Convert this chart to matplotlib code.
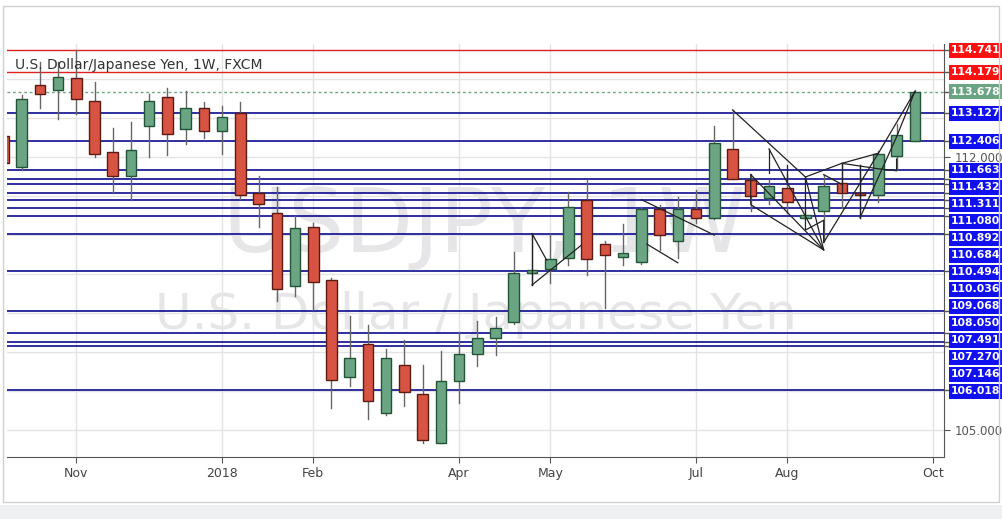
import matplotlib
matplotlib.use("Agg")
import matplotlib.pyplot as plt
from matplotlib.patches import Rectangle

# ---- data ----
opens  = [112.55,111.75,113.86,113.73,114.02,113.45,112.12,111.51,112.81,113.53,112.73,113.27,112.66,113.14,111.09,110.56,108.70,110.20,108.86,106.35,107.20,105.44,106.66,105.92,104.66,106.27,106.94,107.35,107.78,109.04,109.12,109.40,110.90,109.76,109.45,109.30,110.66,109.86,110.66,110.43,112.20,111.40,110.94,111.22,110.45,110.61,111.33,111.09,111.04,112.04,112.40]
closes = [111.85,113.50,113.63,114.05,113.50,112.09,111.51,112.17,113.45,112.58,113.27,112.66,113.02,111.02,110.81,108.61,110.17,108.79,106.29,106.86,105.74,106.84,105.97,104.74,106.27,106.94,107.35,107.63,109.04,109.10,109.38,110.73,109.38,109.50,109.53,110.66,109.99,110.68,110.45,112.35,111.43,110.99,111.25,110.84,110.51,111.25,111.07,111.04,112.07,112.56,113.68]
highs  = [112.70,113.59,114.44,114.44,114.74,113.92,112.74,112.90,113.62,113.76,113.69,113.41,113.31,113.41,111.51,111.23,110.50,110.31,108.90,107.92,107.69,107.08,107.31,106.67,107.03,107.51,107.79,107.89,109.56,110.04,110.04,111.10,111.40,109.85,110.28,110.71,110.77,110.97,111.15,112.81,113.22,111.56,111.40,111.56,110.73,111.53,111.84,111.79,112.15,112.86,113.71]
lows   = [111.70,111.67,113.25,112.97,113.10,111.99,111.09,110.89,112.01,112.05,112.34,112.50,112.09,110.92,110.22,108.32,108.44,108.08,105.56,106.14,105.29,105.39,105.62,104.68,104.66,105.70,106.65,106.92,107.71,108.72,108.78,109.24,108.98,108.14,109.24,109.27,109.61,109.40,110.32,110.41,111.43,110.63,110.79,110.56,110.43,109.84,110.69,110.43,110.86,111.66,112.40]
tick_idx = [4, 12, 17, 25, 30, 38, 43, 51]
tick_labels = ["Nov", "2018", "Feb", "Apr", "May", "Jul", "Aug", "Oct"]
red_levels = [114.741, 114.179]
last_price = 113.678
blue_levels = [113.127, 112.406, 111.663, 111.432, 111.311, 111.080, 110.892, 110.684,
               110.494, 110.036, 109.068, 108.050, 107.491, 107.270, 107.146, 106.018]
axis_ticks = [112.0, 105.0]
# pattern drawings: polylines of (week index, price)
patterns = [
    [(29, 110.04), (29.8, 109.36)],
    [(29, 108.72), (29, 110.04)],
    [(29, 108.72), (31.7, 109.74)],
    [(35, 110.91), (39, 110.0)],
    [(35.3, 109.77), (37, 109.29)],
    [(40, 113.21), (44, 111.49), (45, 109.62), (41, 111.55)],
    [(41, 111.55), (41, 110.78), (45, 109.62)],
    [(42, 112.21), (45, 109.62)],
    [(42, 112.21), (42, 111.60)],
    [(43, 111.80), (43, 111.30)],
    [(44, 111.49), (44, 110.13), (45, 110.38), (45, 109.81)],
    [(44, 111.49), (46, 111.84), (48, 111.70), (49, 111.65), (49, 111.95)],
    [(45, 111.55), (46, 111.30)],
    [(45, 109.81), (48, 112.10), (50, 113.68)],
    [(46, 111.84), (46, 111.10)],
    [(47, 110.45), (49, 112.52), (50, 113.68)],
    [(47, 111.80), (47, 110.45)],
    [(46, 111.84), (48, 112.10)],
]

fig = plt.figure(figsize=(10.02, 5.19), dpi=100)
fig.patch.set_facecolor("white")
# light outer frame and bottom band like the screenshot
fig.patches.append(Rectangle((0, 0), 1, 14/519, transform=fig.transFigure,
                             facecolor="#eef0f2", edgecolor="none", zorder=0))
fig.patches.append(Rectangle((3/1002, 17/519), 996/1002, 496/519, transform=fig.transFigure,
                             facecolor="none", edgecolor="#d0d0d0", lw=1, zorder=0))

ax = fig.add_axes([7/1002, 62/519, 937/1002, 413/519])
ymin, ymax = 104.31, 114.90
ax.set_xlim(0.2, 51.6)
ax.set_ylim(ymin, ymax)

# grid
for t in tick_idx:
    ax.axvline(t, color="#e3e3e3", lw=1, zorder=0)
for p in range(105, 115):
    ax.axhline(p, color="#e3e3e3", lw=1, zorder=0)

# watermarks
ax.text(0.51, 0.555, "USDJPY, 1W", transform=ax.transAxes, fontsize=64, color="#e6e6e8",
        ha="center", va="center", zorder=0.5)
ax.text(0.50, 0.345, "U.S. Dollar / Japanese Yen", transform=ax.transAxes, fontsize=36,
        color="#e6e6e8", ha="center", va="center", zorder=0.5)

# levels
for lv in red_levels:
    ax.axhline(lv, color="#e02020", lw=1.0, zorder=1)
for lv in blue_levels:
    ax.axhline(lv, color="#0a0a90", lw=1.2, zorder=1)
ax.axhline(last_price, color="#6ba583", lw=1, ls=(0, (2, 2)), zorder=1)

# candles
w = 0.58
for i, (o, c, h, l) in enumerate(zip(opens, closes, highs, lows)):
    up = c >= o
    fc = "#6ba583" if up else "#d75442"
    ec = "#225437" if up else "#5b1a13"
    ax.plot([i, i], [l, h], color="#666666", lw=1, zorder=2)
    ax.add_patch(Rectangle((i - w/2, min(o, c)), w, max(abs(c - o), 0.03),
                           facecolor=fc, edgecolor=ec, lw=1, zorder=3))

# pattern lines
for pl in patterns:
    xs, ys = zip(*pl)
    ax.plot(xs, ys, color="#222222", lw=0.9, zorder=4)

ax.text(0.009, 0.965, "U.S. Dollar/Japanese Yen, 1W, FXCM", transform=ax.transAxes,
        fontsize=10, color="#333333", ha="left", va="top", zorder=6)

ax.set_xticks(tick_idx)
ax.set_xticklabels(tick_labels, fontsize=9, color="#444444")
ax.yaxis.tick_right()
ax.set_yticks(axis_ticks)
ax.set_yticklabels(["%.3f" % t for t in axis_ticks], fontsize=8.5, color="#555555")
ax.tick_params(axis="both", length=4, color="#555555")
for s in ["top", "left"]:
    ax.spines[s].set_visible(False)
for s in ["bottom", "right"]:
    ax.spines[s].set_color("#555555")

# price labels with overlap avoidance
gap = 17 / 39.0
labels = [(lv, "#ff1010") for lv in red_levels] + [(last_price, "#6ba583")] + \
         [(lv, "#1010f0") for lv in blue_levels]
labels.sort(key=lambda t: -t[0])
prev = None
for lv, col in labels:
    pos = lv if prev is None else min(lv, prev - gap)
    prev = pos
    ax.plot([1.0, 1.006], [lv, lv], transform=ax.get_yaxis_transform(), color="#555555",
            lw=1, clip_on=False, zorder=6)
    ax.text(1.0075, pos, "%.3f" % lv, transform=ax.get_yaxis_transform(), fontsize=7.8,
            fontweight="bold", color="white", ha="left", va="center", zorder=7,
            bbox=dict(boxstyle="square,pad=0.22", facecolor=col, edgecolor="none"))

fig.savefig("out.png", dpi=100, facecolor="white")
